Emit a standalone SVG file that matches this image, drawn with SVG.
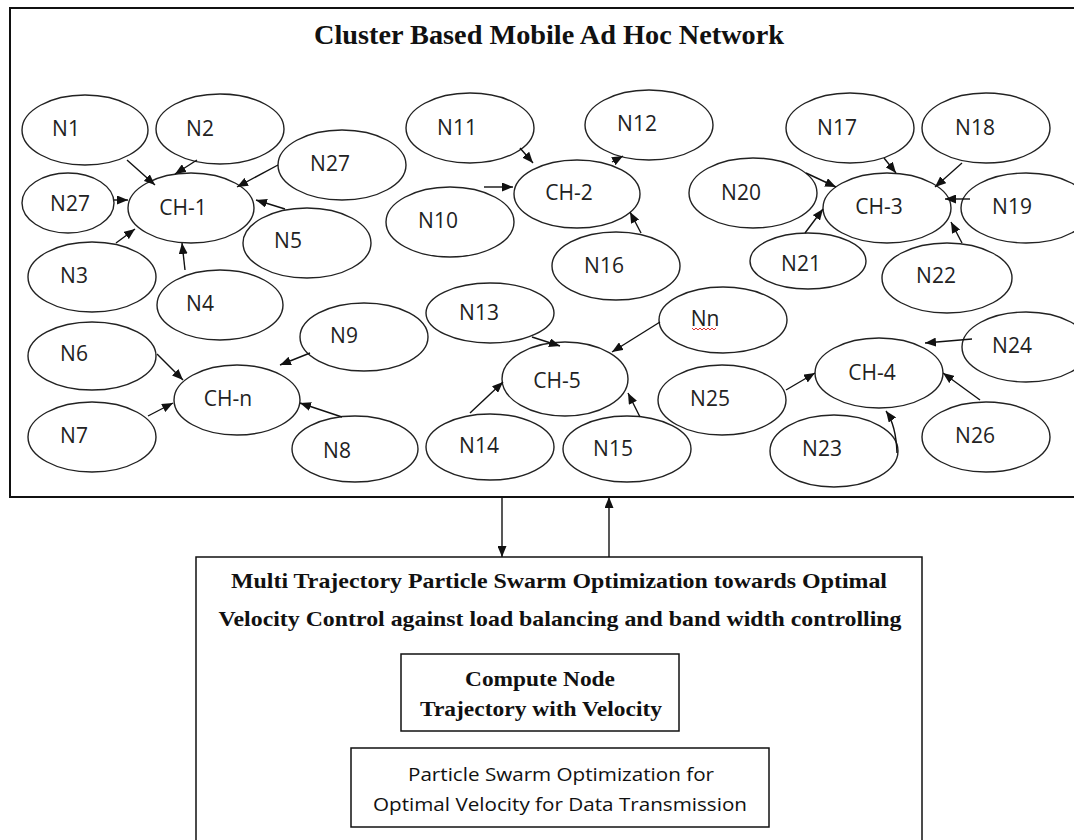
<svg xmlns="http://www.w3.org/2000/svg" width="1074" height="840" viewBox="0 0 1074 840">
<style>
.nd ellipse{fill:#fff;stroke:#222;stroke-width:1.4}
.nd text{font-family:"Open Sans","Noto Sans",sans-serif;font-size:21px;fill:#222;text-anchor:middle}
.cn line,.cn path{stroke:#111;stroke-width:1.4;fill:none;marker-end:url(#ah)}
.frame{fill:none;stroke:#111;stroke-width:2}
.box{fill:#fff;stroke:#111;stroke-width:1.5}
.ser{font-family:"Liberation Serif","Times New Roman",serif;font-weight:bold;fill:#111;text-anchor:middle}
.san{font-family:"Open Sans","Noto Sans",sans-serif;fill:#111;text-anchor:middle}
</style>
<defs>
<marker id="ah" markerUnits="userSpaceOnUse" markerWidth="11" markerHeight="9" refX="11" refY="4.5" orient="auto">
<path d="M0,0 L11,4.5 L0,9 z" fill="#111"/>
</marker>
</defs>
<rect width="1074" height="840" fill="#fff"/>
<g id="network">
<path class="frame" d="M1080,8 H10 V497 H1080"/>
<text class="ser" x="549" y="44" font-size="27" textLength="470" lengthAdjust="spacingAndGlyphs">Cluster Based Mobile Ad Hoc Network</text>
</g>
<g id="N1" class="nd"><ellipse cx="85" cy="130" rx="63" ry="35"/><text x="66" y="136">N1</text></g>
<g id="N2" class="nd"><ellipse cx="220" cy="129" rx="64" ry="35"/><text x="200" y="136">N2</text></g>
<g id="N27a" class="nd"><ellipse cx="342" cy="165" rx="64" ry="35"/><text x="330" y="171">N27</text></g>
<g id="N27b" class="nd"><ellipse cx="68" cy="203" rx="46" ry="30"/><text x="70" y="211">N27</text></g>
<g id="CH-1" class="nd"><ellipse cx="191" cy="208" rx="63" ry="35"/><text x="183" y="215">CH-1</text></g>
<g id="N5" class="nd"><ellipse cx="307" cy="243" rx="64" ry="35"/><text x="288" y="248">N5</text></g>
<g id="N3" class="nd"><ellipse cx="92" cy="277" rx="64" ry="35"/><text x="74" y="283">N3</text></g>
<g id="N4" class="nd"><ellipse cx="220" cy="305" rx="63" ry="35"/><text x="200" y="311">N4</text></g>
<g id="N6" class="nd"><ellipse cx="92" cy="356" rx="64" ry="34"/><text x="74" y="361">N6</text></g>
<g id="N7" class="nd"><ellipse cx="92" cy="437" rx="64" ry="35"/><text x="74" y="443">N7</text></g>
<g id="CH-n" class="nd"><ellipse cx="237" cy="400" rx="63" ry="35"/><text x="228" y="406">CH-n</text></g>
<g id="N9" class="nd"><ellipse cx="364" cy="337" rx="64" ry="34"/><text x="344" y="343">N9</text></g>
<g id="N8" class="nd"><ellipse cx="355" cy="449" rx="63" ry="33"/><text x="337" y="458">N8</text></g>
<g id="N11" class="nd"><ellipse cx="470" cy="128" rx="64" ry="35"/><text x="457" y="135">N11</text></g>
<g id="N12" class="nd"><ellipse cx="649" cy="125" rx="64" ry="35"/><text x="637" y="131">N12</text></g>
<g id="CH-2" class="nd"><ellipse cx="577" cy="194" rx="63" ry="34"/><text x="569" y="200">CH-2</text></g>
<g id="N10" class="nd"><ellipse cx="450" cy="222" rx="64" ry="35"/><text x="438" y="228">N10</text></g>
<g id="N16" class="nd"><ellipse cx="616" cy="266" rx="64" ry="34"/><text x="604" y="273">N16</text></g>
<g id="N17" class="nd"><ellipse cx="850" cy="128" rx="64" ry="35"/><text x="837" y="135">N17</text></g>
<g id="N18" class="nd"><ellipse cx="986" cy="128" rx="64" ry="35"/><text x="975" y="135">N18</text></g>
<g id="N20" class="nd"><ellipse cx="753" cy="193" rx="64" ry="35"/><text x="741" y="200">N20</text></g>
<g id="CH-3" class="nd"><ellipse cx="887" cy="208" rx="64" ry="35"/><text x="879" y="214">CH-3</text></g>
<g id="N19" class="nd"><ellipse cx="1026" cy="208" rx="65" ry="35"/><text x="1012" y="214">N19</text></g>
<g id="N21" class="nd"><ellipse cx="808" cy="261" rx="58" ry="28"/><text x="801" y="271">N21</text></g>
<g id="N22" class="nd"><ellipse cx="947" cy="278" rx="65" ry="35"/><text x="936" y="283">N22</text></g>
<g id="N13" class="nd"><ellipse cx="490" cy="313" rx="64" ry="30"/><text x="479" y="320">N13</text></g>
<g id="Nn" class="nd"><ellipse cx="723" cy="320" rx="64" ry="33"/><text x="705" y="326">Nn</text><path d="M692,328 l2,2 l2,-2 l2,2 l2,-2 l2,2 l2,-2 l2,2 l2,-2 l2,2 l2,-2 l2,2 l2,-2" fill="none" stroke="#d33" stroke-width="1"/></g>
<g id="CH-5" class="nd"><ellipse cx="565" cy="379" rx="63" ry="37"/><text x="557" y="388">CH-5</text></g>
<g id="N25" class="nd"><ellipse cx="722" cy="400" rx="64" ry="35"/><text x="710" y="406">N25</text></g>
<g id="N14" class="nd"><ellipse cx="490" cy="447" rx="64" ry="33"/><text x="479" y="453">N14</text></g>
<g id="N15" class="nd"><ellipse cx="627" cy="449" rx="64" ry="33"/><text x="613" y="456">N15</text></g>
<g id="N24" class="nd"><ellipse cx="1026" cy="347" rx="64" ry="35"/><text x="1012" y="353">N24</text></g>
<g id="CH-4" class="nd"><ellipse cx="879" cy="373" rx="64" ry="35"/><text x="872" y="380">CH-4</text></g>
<g id="N26" class="nd"><ellipse cx="986" cy="437" rx="64" ry="35"/><text x="975" y="443">N26</text></g>
<g id="N23" class="nd"><ellipse cx="834" cy="451" rx="64" ry="36"/><text x="822" y="456">N23</text></g>
<g id="mtpso">
<rect class="box" x="196" y="557" width="726" height="300"/>
<text class="ser" x="559" y="588" font-size="21" textLength="656" lengthAdjust="spacingAndGlyphs">Multi Trajectory Particle Swarm Optimization towards Optimal</text>
<text class="ser" x="560" y="626" font-size="21" textLength="683" lengthAdjust="spacingAndGlyphs">Velocity Control against load balancing and band width controlling</text>
</g>
<g id="compute">
<rect class="box" x="401" y="654" width="278" height="77"/>
<text class="ser" x="540" y="686" font-size="21" textLength="150" lengthAdjust="spacingAndGlyphs">Compute Node</text>
<text class="ser" x="541" y="716" font-size="21" textLength="242" lengthAdjust="spacingAndGlyphs">Trajectory with Velocity</text>
</g>
<g id="pso">
<rect class="box" x="351" y="748" width="418" height="79"/>
<text class="san" x="561" y="781" font-size="18" textLength="306" lengthAdjust="spacingAndGlyphs">Particle Swarm Optimization for</text>
<text class="san" x="560" y="811" font-size="18" textLength="374" lengthAdjust="spacingAndGlyphs">Optimal Velocity for Data Transmission</text>
</g>
<g id="connectors" class="cn">
<line x1="127" y1="160" x2="155" y2="185"/>
<line x1="197" y1="160" x2="175" y2="174"/>
<line x1="278" y1="165" x2="237" y2="187"/>
<line x1="114" y1="200" x2="128" y2="200"/>
<line x1="116" y1="243" x2="135" y2="229"/>
<line x1="185" y1="270" x2="182" y2="243"/>
<line x1="285" y1="209" x2="256" y2="200"/>
<line x1="520" y1="148" x2="533" y2="163"/>
<line x1="612" y1="162" x2="623" y2="156"/>
<line x1="484" y1="187" x2="513" y2="187"/>
<line x1="641" y1="233" x2="630" y2="212"/>
<line x1="884" y1="158" x2="896" y2="173"/>
<line x1="962" y1="163" x2="935" y2="187"/>
<line x1="806" y1="173" x2="836" y2="187"/>
<line x1="970" y1="199" x2="945" y2="199"/>
<line x1="805" y1="233" x2="823" y2="209"/>
<line x1="962" y1="243" x2="951" y2="222"/>
<line x1="157" y1="354" x2="183" y2="380"/>
<line x1="148" y1="416" x2="173" y2="403"/>
<line x1="310" y1="353" x2="280" y2="365"/>
<line x1="342" y1="417" x2="300" y2="403"/>
<line x1="532" y1="337" x2="560" y2="346"/>
<line x1="660" y1="322" x2="612" y2="352"/>
<line x1="470" y1="413" x2="503" y2="382"/>
<line x1="640" y1="417" x2="628" y2="393"/>
<line x1="786" y1="390" x2="815" y2="373"/>
<line x1="972" y1="339" x2="925" y2="343"/>
<line x1="980" y1="400" x2="943" y2="373"/>
<path d="M897,453 Q896,425 886,411"/>
<line x1="502" y1="497" x2="502" y2="557"/>
<line x1="609" y1="557" x2="609" y2="497"/>
</g>
</svg>
